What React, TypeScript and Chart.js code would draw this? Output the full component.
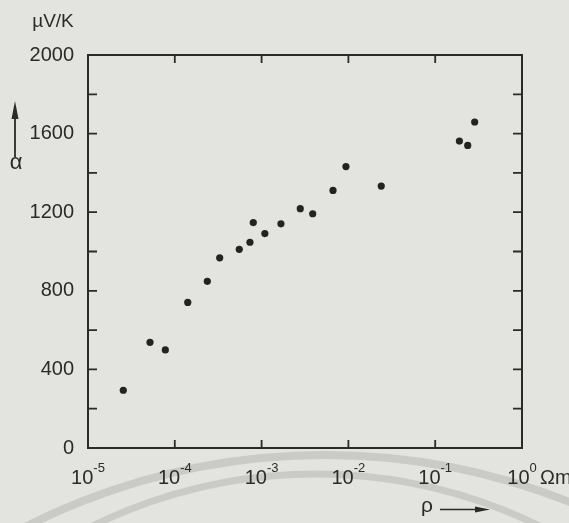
import { useEffect, useRef } from "react";
import { Chart, registerables } from "chart.js";

Chart.register(...registerables);

// Resistivity rho (Ohm m) and thermopower alpha (µV/K)
const RHO = [
  2.55e-5, 5.18e-5, 7.78e-5, 1.41e-4, 2.37e-4, 3.29e-4, 5.53e-4, 7.34e-4, 8.02e-4,
  1.09e-3, 1.67e-3, 2.79e-3, 3.88e-3, 6.65e-3, 9.37e-3, 2.39e-2, 0.19, 0.237, 0.285,
];
const ALPHA = [
  294, 538, 499, 741, 848, 968, 1011, 1047, 1147,
  1091, 1141, 1218, 1192, 1311, 1432, 1333, 1562, 1540, 1659,
];
const X_DECADES = [1e-5, 1e-4, 1e-3, 1e-2, 1e-1, 1];
const X_EXPONENTS = ["-5", "-4", "-3", "-2", "-1", "0"];
const Y_MIN = 0;
const Y_MAX = 2000;
const Y_MINOR_STEP = 200;
const Y_LABEL_STEP = 400;

const FONT = "'Liberation Sans', 'DejaVu Sans', sans-serif";
const INK = "#2a2a2a";
const BG = "#e3e3df";

const decoPlugin = {
  id: "deco",
  beforeDraw(chart: any) {
    const ctx = chart.ctx as CanvasRenderingContext2D;
    ctx.save();
    ctx.fillStyle = BG;
    ctx.fillRect(0, 0, chart.width, chart.height);
    // faint scan artefact arcs
    ctx.strokeStyle = "#cacac7";
    ctx.lineWidth = 8;
    ctx.beginPath();
    ctx.arc(325, 1115, 660, Math.PI, 2 * Math.PI);
    ctx.stroke();
    ctx.lineWidth = 7;
    ctx.beginPath();
    ctx.arc(316, 980, 506, Math.PI, 2 * Math.PI);
    ctx.stroke();
    ctx.restore();
  },
  afterDraw(chart: any) {
    const ctx = chart.ctx as CanvasRenderingContext2D;
    const { left, right, top, bottom } = chart.chartArea;
    const xs = chart.scales.x;
    const ys = chart.scales.y;
    ctx.save();
    ctx.strokeStyle = INK;
    ctx.fillStyle = INK;
    ctx.lineWidth = 2;
    ctx.strokeRect(left, top, right - left, bottom - top);
    // y ticks (inward, both sides)
    ctx.lineWidth = 1.8;
    for (let v = Y_MIN + Y_MINOR_STEP; v < Y_MAX; v += Y_MINOR_STEP) {
      const py = ys.getPixelForValue(v);
      ctx.beginPath();
      ctx.moveTo(left, py);
      ctx.lineTo(left + 9, py);
      ctx.moveTo(right, py);
      ctx.lineTo(right - 9, py);
      ctx.stroke();
    }
    // x ticks (inward, top and bottom) and labels
    X_DECADES.forEach((v, i) => {
      const px = xs.getPixelForValue(v);
      if (i > 0 && i < X_DECADES.length - 1) {
        ctx.beginPath();
        ctx.moveTo(px, bottom);
        ctx.lineTo(px, bottom - 8);
        ctx.moveTo(px, top);
        ctx.lineTo(px, top + 8);
        ctx.stroke();
      }
      ctx.font = `20px ${FONT}`;
      const bw = ctx.measureText("10").width;
      ctx.font = `13px ${FONT}`;
      const sw = ctx.measureText(X_EXPONENTS[i]).width;
      const x0 = px - (bw + sw) / 2;
      ctx.textAlign = "left";
      ctx.textBaseline = "alphabetic";
      ctx.font = `20px ${FONT}`;
      ctx.fillText("10", x0, 484);
      ctx.font = `13px ${FONT}`;
      ctx.fillText(X_EXPONENTS[i], x0 + bw, 472);
    });
    // unit labels
    ctx.font = `20px ${FONT}`;
    ctx.textAlign = "left";
    ctx.fillText("Ωm", 540, 484);
    ctx.font = `19px ${FONT}`;
    ctx.textAlign = "center";
    ctx.fillText("µV/K", 53, 27);
    // alpha with arrow
    ctx.font = `22px ${FONT}`;
    ctx.fillText("α", 16, 169);
    ctx.lineWidth = 1.8;
    ctx.beginPath();
    ctx.moveTo(15, 157);
    ctx.lineTo(15, 112);
    ctx.stroke();
    ctx.beginPath();
    ctx.moveTo(15, 101);
    ctx.lineTo(11.5, 119);
    ctx.lineTo(18.5, 119);
    ctx.closePath();
    ctx.fill();
    // rho with arrow
    ctx.font = `21px ${FONT}`;
    ctx.textAlign = "left";
    ctx.fillText("ρ", 421, 512);
    ctx.lineWidth = 1.6;
    ctx.beginPath();
    ctx.moveTo(440, 509.5);
    ctx.lineTo(480, 509.5);
    ctx.stroke();
    ctx.beginPath();
    ctx.moveTo(490, 509.5);
    ctx.lineTo(475, 506.5);
    ctx.lineTo(475, 512.5);
    ctx.closePath();
    ctx.fill();
    ctx.restore();
  },
};

export default function App() {
  const ref = useRef<HTMLCanvasElement | null>(null);
  useEffect(() => {
    if (!ref.current) return;
    const chart = new Chart(ref.current, {
      type: "scatter",
      data: {
        datasets: [
          {
            data: RHO.map((r, i) => ({ x: r, y: ALPHA[i] })),
            pointRadius: 3.6,
            pointBackgroundColor: "#232323",
            pointBorderWidth: 0,
            showLine: false,
          },
        ],
      },
      options: {
        animation: false,
        responsive: false,
        events: [],
        layout: { padding: { top: 55, right: 47, left: 0, bottom: 0 } },
        plugins: { legend: { display: false }, tooltip: { enabled: false } },
        scales: {
          x: {
            type: "logarithmic",
            min: 1e-5,
            max: 1,
            grid: { display: false, drawTicks: false },
            border: { display: false },
            ticks: { display: false },
            afterFit: (s: any) => {
              s.height = 75;
            },
          },
          y: {
            type: "linear",
            min: Y_MIN,
            max: Y_MAX,
            grid: { display: false, drawTicks: false },
            border: { display: false },
            ticks: {
              stepSize: Y_MINOR_STEP,
              padding: 14,
              color: INK,
              font: { family: FONT, size: 20 },
              callback: (v: any) => (Number(v) % Y_LABEL_STEP === 0 ? String(v) : ""),
            },
            afterFit: (s: any) => {
              s.width = 88;
            },
          },
        },
      },
      plugins: [decoPlugin],
    });
    return () => chart.destroy();
  }, []);
  return (
    <div style={{ position: "fixed", left: 0, top: 0, width: 569, height: 523, background: BG }}>
      <canvas ref={ref} width={569} height={523} style={{ display: "block", width: 569, height: 523 }} />
    </div>
  );
}
